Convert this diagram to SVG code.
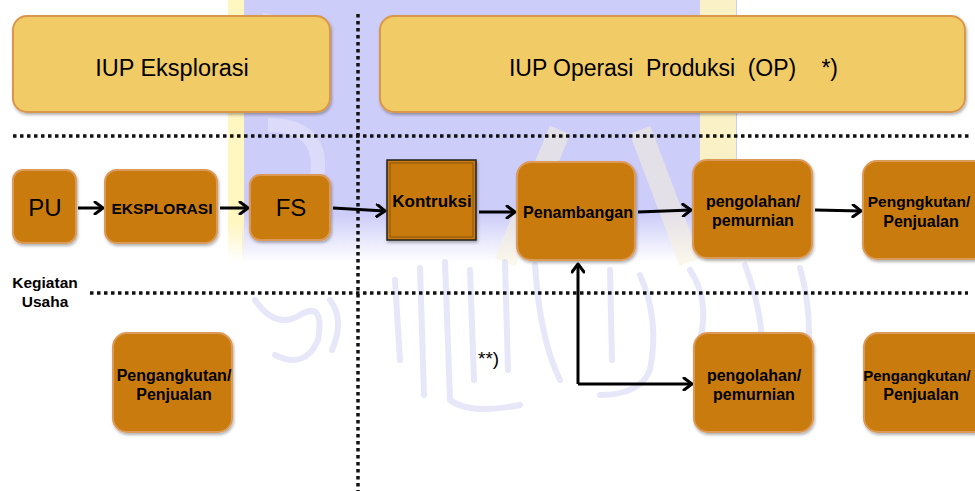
<svg xmlns="http://www.w3.org/2000/svg" width="975" height="491" viewBox="0 0 975 491">
<style>
.hdr{fill:#F1CB65;stroke:#D8974A;stroke-width:2}
.node{fill:#C97B11;stroke:#DC9A58;stroke-width:2}
.t{font-family:"Liberation Sans",Arial,sans-serif;fill:#000}
.b{font-weight:bold}
.dot{stroke:#111;stroke-width:3.5;stroke-dasharray:3.5 3.5;fill:none}
.con{stroke:#000;stroke-width:3;fill:none}
.wm{fill:none;stroke:#CFCFF5;stroke-width:6;stroke-linecap:round;opacity:0.5}
</style>
<defs>
<marker id="ah" markerWidth="12" markerHeight="14" refX="10" refY="7" orient="auto" markerUnits="userSpaceOnUse">
<path d="M2,1 L10,7 L2,13" fill="none" stroke="#000" stroke-width="3" stroke-linecap="round" stroke-linejoin="round"/>
</marker>
<filter id="sh" x="-10%" y="-10%" width="130%" height="130%">
<feDropShadow dx="1" dy="2" stdDeviation="1.5" flood-color="#000" flood-opacity="0.3"/>
</filter>
<linearGradient id="fade" x1="0" y1="0" x2="0" y2="1">
<stop offset="0" stop-color="#CDCDF9"/>
<stop offset="0.82" stop-color="#CDCDF9"/>
<stop offset="1" stop-color="#CDCDF9" stop-opacity="0"/>
</linearGradient>
<linearGradient id="fadeY" x1="0" y1="0" x2="0" y2="1">
<stop offset="0" stop-color="#FFF6C0"/>
<stop offset="0.85" stop-color="#FFF6C0"/>
<stop offset="1" stop-color="#FFF6C0" stop-opacity="0"/>
</linearGradient>
</defs>
<rect width="975" height="491" fill="#fff"/>
<g id="watermark">
<rect x="242" y="0" width="495" height="262" fill="url(#fade)"/>
<rect x="228" y="0" width="16" height="262" fill="url(#fadeY)"/>
<rect x="700" y="0" width="36" height="262" fill="url(#fadeY)" opacity="0.9"/>
<path d="M505,262 L560,130 M640,130 L690,262" fill="none" stroke="#F7F0D8" stroke-width="22" opacity="0.55"/>
<path d="M262,20 Q300,25 300,60 M268,125 Q318,125 318,165 Q318,205 268,205" fill="none" stroke="#DCDCFA" stroke-width="14"/>
<path class="wm" d="M255,300 Q275,330 300,315 Q325,300 318,340 Q305,370 275,355"/>
<path class="wm" d="M330,300 Q345,320 332,350"/>
<path class="wm" d="M395,280 L400,360"/>
<path class="wm" d="M420,268 L424,395"/>
<path class="wm" d="M445,262 L450,400 Q470,415 520,405"/>
<path class="wm" d="M470,270 L474,380"/>
<path class="wm" d="M505,262 L508,370"/>
<path class="wm" d="M535,265 Q540,340 560,380"/>
<path class="wm" d="M610,270 L612,360"/>
<path class="wm" d="M640,275 Q660,320 650,370 Q640,395 600,395"/>
<path class="wm" d="M690,270 Q710,300 700,340"/>
<path class="wm" d="M745,265 Q770,330 760,395"/>
<path class="wm" d="M800,268 Q815,320 805,380"/>
</g>
<g id="dividers">
<line class="dot" x1="13" y1="136" x2="970" y2="136"/>
<line class="dot" x1="90" y1="293" x2="968" y2="293"/>
<line class="dot" x1="358" y1="14" x2="358" y2="491"/>
</g>
<g id="iup-eksplorasi">
<rect class="hdr" x="13" y="16" width="317" height="96" rx="14" filter="url(#sh)"/>
<text class="t" x="172" y="76" font-size="23.5" text-anchor="middle">IUP Eksplorasi</text>
</g>
<g id="iup-op">
<rect class="hdr" x="380" y="16" width="585" height="96" rx="14" filter="url(#sh)"/>
<text class="t" x="509" y="76" font-size="23" xml:space="preserve" textLength="329" lengthAdjust="spacing">IUP Operasi  Produksi  (OP)    *)</text>
</g>
<g id="connectors">
<line class="con" x1="78" y1="208" x2="103" y2="208" marker-end="url(#ah)"/>
<line class="con" x1="220" y1="208" x2="248" y2="208" marker-end="url(#ah)"/>
<line class="con" x1="333" y1="208" x2="385" y2="211" marker-end="url(#ah)"/>
<line class="con" x1="479" y1="212" x2="515" y2="212" marker-end="url(#ah)"/>
<line class="con" x1="638" y1="212" x2="691" y2="210" marker-end="url(#ah)"/>
<line class="con" x1="815" y1="210" x2="861" y2="211" marker-end="url(#ah)"/>
<path class="con" d="M578,384 L578,264" marker-end="url(#ah)"/>
<path class="con" d="M578,384 L692,384" marker-end="url(#ah)"/>
</g>
<g id="pu">
<rect class="node" x="13" y="170" width="63" height="73" rx="10" filter="url(#sh)"/>
<text class="t" x="45" y="216" font-size="24" text-anchor="middle">PU</text>
</g>
<g id="eksplorasi">
<rect class="node" x="105" y="170" width="112" height="73" rx="12" filter="url(#sh)"/>
<text class="t b" x="162" y="214" font-size="14" text-anchor="middle" textLength="101" lengthAdjust="spacingAndGlyphs">EKSPLORASI</text>
</g>
<g id="fs">
<rect class="node" x="250" y="175" width="80" height="65" rx="10" filter="url(#sh)"/>
<text class="t" x="291" y="216" font-size="24" text-anchor="middle">FS</text>
</g>
<g id="kontruksi">
<rect x="387" y="160" width="89" height="80" fill="#C87A10" stroke="#222" stroke-width="1.5" filter="url(#sh)"/>
<rect x="390" y="163" width="83" height="74" fill="none" stroke="#8A5410" stroke-width="1"/>
<text class="t b" x="432" y="207" font-size="17" text-anchor="middle">Kontruksi</text>
</g>
<g id="penambangan">
<rect class="node" x="517" y="162" width="118" height="98" rx="14" filter="url(#sh)"/>
<text class="t b" x="578" y="218" font-size="16.5" text-anchor="middle" textLength="110" lengthAdjust="spacingAndGlyphs">Penambangan</text>
</g>
<g id="pengolahan-1">
<rect class="node" x="693" y="160" width="119" height="98" rx="14" filter="url(#sh)"/>
<text class="t b" x="753" y="207" font-size="16" text-anchor="middle">pengolahan/</text>
<text class="t b" x="753" y="226" font-size="16" text-anchor="middle">pemurnian</text>
</g>
<g id="pengangkutan-1">
<rect class="node" x="863" y="161" width="125" height="98" rx="14" filter="url(#sh)"/>
<text class="t b" x="919" y="207" font-size="15.5" text-anchor="middle">Pengngkutan/</text>
<text class="t b" x="921" y="227" font-size="16" text-anchor="middle">Penjualan</text>
</g>
<g id="kegiatan-usaha">
<text class="t b" x="45" y="288" font-size="15.5" text-anchor="middle">Kegiatan</text>
<text class="t b" x="45" y="307" font-size="15.5" text-anchor="middle">Usaha</text>
</g>
<g id="pengangkutan-2">
<rect class="node" x="113" y="333" width="119" height="99" rx="14" filter="url(#sh)"/>
<text class="t b" x="174" y="381" font-size="16" text-anchor="middle">Pengangkutan/</text>
<text class="t b" x="174" y="400" font-size="16" text-anchor="middle">Penjualan</text>
</g>
<g id="note">
<text class="t" x="478" y="365" font-size="19">**)</text>
</g>
<g id="pengolahan-2">
<rect class="node" x="694" y="333" width="119" height="99" rx="14" filter="url(#sh)"/>
<text class="t b" x="754" y="381" font-size="16" text-anchor="middle">pengolahan/</text>
<text class="t b" x="754" y="400" font-size="16" text-anchor="middle">pemurnian</text>
</g>
<g id="pengangkutan-3">
<rect class="node" x="864" y="333" width="125" height="99" rx="14" filter="url(#sh)"/>
<text class="t b" x="917" y="381" font-size="15" text-anchor="middle">Pengangkutan/</text>
<text class="t b" x="921" y="400" font-size="16" text-anchor="middle">Penjualan</text>
</g>
</svg>
